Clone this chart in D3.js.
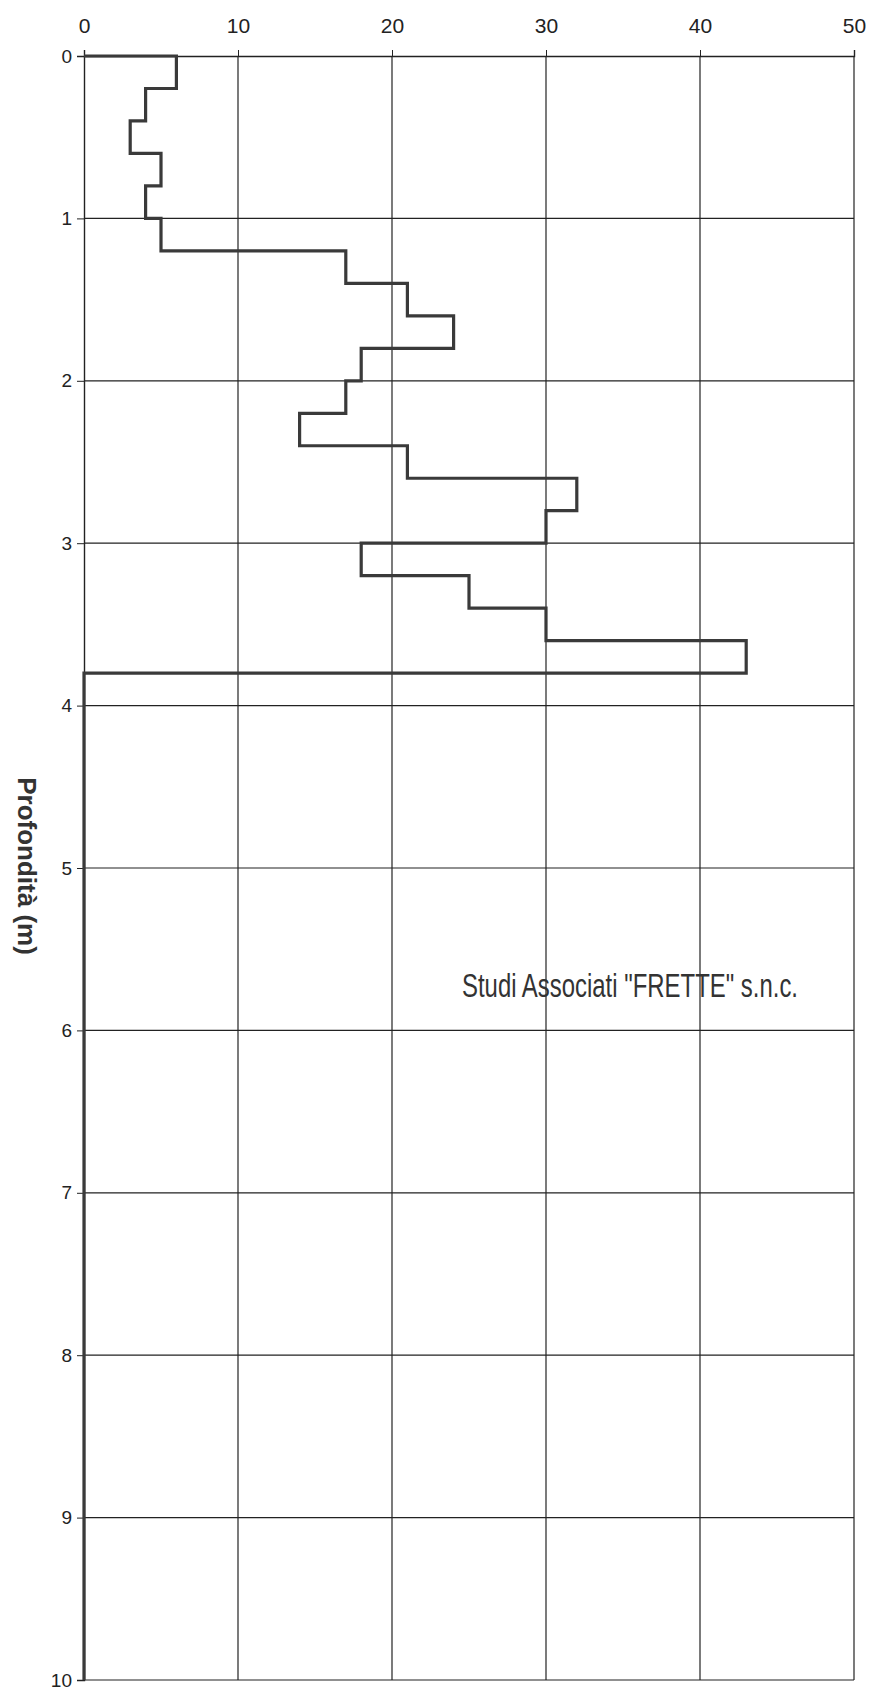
<!DOCTYPE html>
<html><head><meta charset="utf-8">
<script src="https://cdn.jsdelivr.net/npm/d3@7"></script>
<style>html,body{margin:0;padding:0;background:#fff;}svg{display:block;}</style>
</head><body>
<script>
// Data: penetration profile, 0.2 m steps
const depthTops = [0,0.2,0.4,0.6,0.8,1.0,1.2,1.4,1.6,1.8,2.0,2.2,2.4,2.6,2.8,3.0,3.2,3.4,3.6];
const blows     = [6,4,3,5,4,5,17,21,24,18,17,14,21,32,30,18,25,30,43];
const stepSize = 0.2;
const endDepth = 10;
const xTicks = [0,10,20,30,40,50];
const yTicks = [0,1,2,3,4,5,6,7,8,9,10];
const yLabel = "Profondità (m)";
const stamp = "Studi Associati \"FRETTE\" s.n.c.";

const W = 870, H = 1697;
const L = 84, R = 854, T = 56, B = 1680;

const svg = d3.select("body").append("svg").attr("width", W).attr("height", H);
svg.append("rect").attr("width", W).attr("height", H).attr("fill", "#fff");

const x = d3.scaleLinear().domain([0, 50]).range([L, R]);
const y = d3.scaleLinear().domain([0, 10]).range([T, B]);

// grid
const g = svg.append("g");
g.selectAll("line.v").data(xTicks.slice(1)).join("line")
  .attr("x1", d => x(d)).attr("x2", d => x(d)).attr("y1", y(0)).attr("y2", y(10))
  .attr("stroke", "#222").attr("stroke-width", 1.2);
g.selectAll("line.h").data(yTicks.slice(1)).join("line")
  .attr("x1", x(0)).attr("x2", x(50)).attr("y1", d => y(d)).attr("y2", d => y(d))
  .attr("stroke", "#222").attr("stroke-width", 1.2);

// axes
const ax = svg.append("g").attr("transform", `translate(0,${y(0)})`)
  .call(d3.axisTop(x).tickValues(xTicks).tickSize(6).tickPadding(17));
ax.select(".domain").attr("stroke", "#222").attr("stroke-width", 1.4);
ax.selectAll(".tick line").attr("stroke", "#222");
ax.selectAll("text").attr("font-family", "'Liberation Sans',Arial,sans-serif")
  .attr("font-size", 21).attr("fill", "#222");

const ay = svg.append("g").attr("transform", `translate(${x(0)},0)`)
  .call(d3.axisLeft(y).tickValues(yTicks).tickSize(7).tickPadding(5));
ay.select(".domain").attr("stroke", "#222").attr("stroke-width", 1.4);
ay.selectAll(".tick line").attr("stroke", "#222");
ay.selectAll("text").attr("font-family", "'Liberation Sans',Arial,sans-serif")
  .attr("font-size", 19).attr("fill", "#222");

// step profile
const pts = [[0, 0]];
blows.forEach((v, i) => {
  pts.push([v, depthTops[i]]);
  pts.push([v, depthTops[i] + stepSize]);
});
const last = depthTops[depthTops.length - 1] + stepSize;
pts.push([0, last]);
pts.push([0, endDepth]);

svg.append("path").datum(pts)
  .attr("d", d3.line().x(d => x(d[0])).y(d => y(d[1])))
  .attr("fill", "none").attr("stroke", "#3a3a3a").attr("stroke-width", 3.2)
  .attr("stroke-linejoin", "miter");

// y label
svg.append("text").attr("transform", `translate(18,866) rotate(90)`)
  .attr("text-anchor", "middle").attr("font-family", "'Liberation Sans',Arial,sans-serif")
  .attr("font-weight", "bold").attr("font-size", 26).attr("fill", "#333").text(yLabel);

// stamp
svg.append("text").attr("x", 462).attr("y", 997)
  .attr("font-family", "'Liberation Sans Narrow','Liberation Sans',sans-serif")
  .attr("font-size", 34).attr("fill", "#333")
  .attr("textLength", 336).attr("lengthAdjust", "spacingAndGlyphs").text(stamp);
</script>
</body></html>
